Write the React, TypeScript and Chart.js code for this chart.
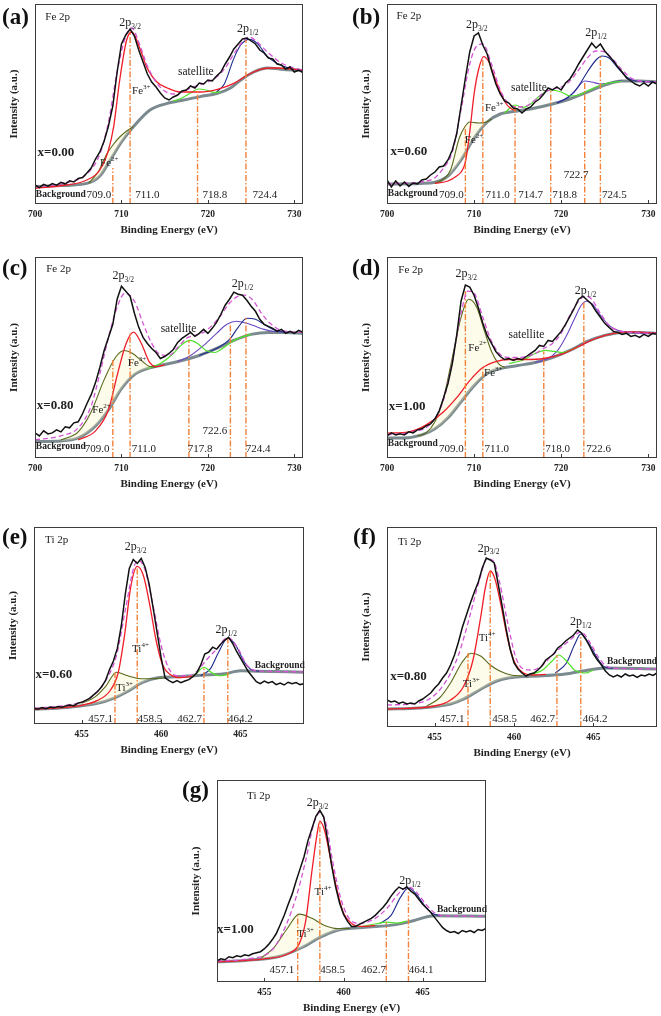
import React, { useEffect, useRef } from "react";
import { Chart, registerables } from "chart.js";
Chart.register(...registerables);

// ---------- axes ----------
const FE_RANGE = [700, 731];
const TI_RANGE = [452, 469];
const FE_TICKS = [700, 710, 720, 730];
const TI_TICKS = [455, 460, 465];
const FE_RAW_START = 700;
const FE_RAW_STEP = 0.5;
const TI_RAW_START = 452;
const TI_RAW_STEP = 0.25;

// ---------- panel (a) Fe 2p, x=0.00 ----------
const RAW_A = [9.5, 8.2, 9.8, 8.9, 10.2, 9.4, 10.8, 10.1, 11.6, 11.0, 12.8, 13.2, 15.5, 18.0, 22.5, 26.0, 31.5, 39.0, 49.0, 66.0, 80.0, 84.5, 87.5, 84.0, 77.0, 71.0, 65.0, 61.0, 58.5, 55.5, 53.0, 52.0, 53.5, 54.5, 56.5, 57.0, 59.0, 58.0, 60.5, 60.0, 62.0, 61.5, 64.0, 66.0, 70.0, 73.5, 77.5, 80.0, 82.5, 83.0, 81.5, 80.0, 77.0, 75.5, 73.0, 72.5, 70.0, 69.5, 67.5, 68.5, 66.0, 67.0, 65.5];
const ENV_A = [[700, 8.5], [704, 11], [706, 15], [707.5, 25], [708.5, 41], [709.5, 66], [710.5, 84], [711.2, 88], [712, 81], [713, 69], [714, 61], [715, 56.5], [716, 55], [717, 56], [718, 58], [719, 59.5], [720, 61], [721, 63.5], [722, 68], [723, 75], [724, 81], [724.8, 83.5], [725.7, 81], [727, 75.5], [728.5, 70.5], [730, 68], [731, 67]];
const BG_A = [[700, 8.7], [703, 9.2], [706, 10.3], [707.5, 14], [708.7, 22], [710, 31], [711.4, 38.7], [713.3, 47], [715.3, 50.3], [717.2, 52], [719.1, 53.7], [721.1, 55.3], [722.6, 58], [723.8, 62], [725.3, 66], [726.9, 68], [728.8, 67.3], [731, 66.7]];
const MAIN_A = [[700, 7.8], [703.6, 9.5], [706, 12], [707.5, 17], [708.5, 27], [709.1, 38.7], [709.8, 62], [710.6, 82], [711.2, 86], [712.2, 77], [712.9, 68.7], [714.1, 61], [715.3, 58], [716.8, 56], [719.1, 56], [721.1, 57.3], [723, 60.3], [724.6, 64.5], [726.1, 67.3], [727.7, 68], [731, 67]];
const MINOR_A = [[706.2, 10.3], [707.3, 16], [708.3, 25], [709.1, 30], [709.8, 33.5], [710.6, 36.5], [711.4, 38.7]];
const SAT_A = [[716, 51.5], [717, 53], [718, 55.5], [718.9, 57.5], [719.8, 57], [720.7, 55.8], [721.5, 56]];
const BLUE_A = [[721, 56], [721.9, 60], [723, 72.8], [723.8, 79.5], [724.8, 82.3], [725.7, 80.3], [726.9, 73.7], [728.4, 69.5], [730, 67.3], [731, 66.7]];
const PEAKS_A = [[709.0, 18], [711.0, 87], [718.8, 57], [724.4, 82]];
const LABELS_A = [
  ["Fe 2p", "", "", 701.2, 93.5, "title"],
  ["2p", "3/2", "", 711, 90.5, "peak"],
  ["2p", "1/2", "", 724.6, 87.5, "peak"],
  ["satellite", "", "", 718.6, 66, "note"],
  ["Fe", "", "3+", 712.3, 56.5, "ion"],
  ["Fe", "", "2+", 708.6, 20.5, "ion"],
  ["x=0.00", "", "", 700.3, 25.7, "x"],
  ["Background", "", "", 700.1, 4.5, "bg"],
  ["709.0", "", "", 707.4, 4.5, "num"],
  ["711.0", "", "", 713.0, 4.5, "num"],
  ["718.8", "", "", 720.8, 4.5, "num"],
  ["724.4", "", "", 726.6, 4.5, "num"],
];

// ---------- panel (b) Fe 2p, x=0.60 ----------
const RAW_B = [12.0, 8.5, 11.5, 9.0, 11.0, 8.8, 10.5, 10.0, 12.0, 12.5, 14.5, 16.0, 18.5, 19.0, 22.0, 27.0, 35.0, 49.0, 63.0, 76.0, 84.0, 85.5, 79.5, 75.0, 67.0, 60.0, 55.0, 51.5, 50.5, 48.0, 47.5, 45.5, 47.5, 48.5, 51.0, 52.5, 55.0, 58.0, 57.0, 58.5, 57.0, 60.5, 62.5, 66.0, 70.0, 73.5, 77.0, 80.5, 78.0, 80.0, 76.5, 74.0, 71.5, 68.5, 66.0, 63.0, 61.5, 60.0, 59.0, 60.5, 59.0, 61.0, 60.0];
const ENV_B = [[700, 10], [705, 12], [706.5, 18], [707.5, 26], [708.5, 47], [709.5, 70], [710.3, 79], [711, 80], [712, 70], [713, 57], [714, 50], [715, 48.5], [716, 49], [717, 52], [718, 55.5], [719, 57.5], [720, 58.5], [721, 61.5], [722, 67], [723, 73], [724, 76.5], [725, 76], [726, 72], [727, 67], [728, 63], [729, 61.5], [731, 61]];
const BG_B = [[700, 10], [705, 10.5], [707, 14], [708.5, 22], [710, 33], [711.5, 41], [713, 45], [715, 46.5], [717, 48], [719, 50], [721, 52.5], [723, 56], [725, 59.5], [727, 61.5], [729, 61.5], [731, 61]];
const MAIN_B = [[705.5, 10.3], [707, 11.5], [708, 14], [708.5, 16], [709, 21], [709.5, 36], [710, 55], [710.5, 67], [711.1, 73.7], [711.7, 71], [712.3, 64], [713, 56], [713.7, 50], [714.3, 47.5], [714.8, 46.8]];
const MINOR_B = [[705.5, 10.5], [706.5, 12.5], [707.3, 17], [708.3, 33], [709, 39], [709.5, 41], [710.5, 40.5], [711.3, 40.8], [712, 42.5]];
const SAT_B = [[713.5, 45.5], [714.7, 49.5], [715.6, 48.3], [716.5, 50], [717.5, 54], [718.8, 57], [720, 56], [721, 54], [722, 54.5], [723, 56.5], [724, 58.5], [725, 60], [727, 61.5]];
const PURPLE_B = [[719.5, 50.5], [720.5, 52.5], [721.5, 56], [722.7, 61.5], [723.5, 61], [724.5, 60], [725.5, 60.5], [727, 61.8]];
const BLUE_B = [[719.5, 50.5], [721, 54], [722, 59], [723, 66], [724, 72], [724.7, 74], [725.5, 73], [726.5, 68], [727.5, 63.5], [728.5, 61.5], [731, 61]];
const PEAKS_B = [[709.0, 39], [711.0, 73], [714.7, 49], [718.8, 57], [722.7, 61.5], [724.5, 74]];
const LABELS_B = [
  ["Fe 2p", "", "", 701.1, 94, "title"],
  ["2p", "3/2", "", 710.3, 89.5, "peak"],
  ["2p", "1/2", "", 724, 85.7, "peak"],
  ["satellite", "", "", 716.3, 58, "note"],
  ["Fe", "", "3+", 712.3, 48, "ion"],
  ["Fe", "", "2+", 710, 32, "ion"],
  ["x=0.60", "", "", 700.4, 26, "x"],
  ["722.7", "", "", 721.7, 14.5, "num"],
  ["Background", "", "", 700.1, 5, "bg"],
  ["709.0", "", "", 707.4, 4.5, "num"],
  ["711.0", "", "", 712.7, 4.5, "num"],
  ["714.7", "", "", 716.5, 4.5, "num"],
  ["718.8", "", "", 720.4, 4.5, "num"],
  ["724.5", "", "", 726.1, 4.5, "num"],
];

// ---------- panel (c) Fe 2p, x=0.80 ----------
const RAW_C = [12.5, 11.0, 13.5, 12.0, 12.5, 14.0, 13.0, 15.5, 15.0, 17.5, 18.0, 22.0, 27.0, 31.5, 37.5, 45.0, 53.5, 60.0, 66.5, 79.0, 85.5, 83.0, 80.5, 72.0, 65.0, 60.0, 57.0, 54.5, 52.5, 49.5, 50.5, 52.0, 54.0, 57.5, 59.5, 61.0, 62.5, 60.5, 62.0, 64.0, 62.0, 64.5, 67.5, 71.5, 76.0, 79.0, 82.5, 81.5, 81.0, 78.5, 75.5, 73.0, 69.0, 66.5, 65.5, 64.5, 63.0, 64.0, 62.0, 63.0, 62.0, 63.5, 62.5];
const ENV_C = [[700, 9], [703, 11], [705, 15], [706.5, 26], [707.5, 42], [708.5, 60], [709.5, 75], [710.4, 82], [711.5, 78], [712.5, 67], [713.5, 57], [714.5, 51.5], [715.5, 51], [716.5, 55], [717.5, 59.5], [718.5, 61], [719.5, 62.5], [720.5, 66], [721.5, 71], [722.5, 77], [723.5, 80.5], [724.3, 81], [725.2, 78.5], [726.2, 72], [727.2, 67], [728.5, 63.5], [731, 62.5]];
const BG_C = [[700, 8.2], [703, 8.5], [705, 10], [707, 16], [708.5, 24], [710, 34.5], [711.5, 41.5], [713, 44.5], [715, 46.5], [717, 48.5], [719, 51], [721, 54.5], [723, 58.5], [725, 61.5], [727, 62.5], [729, 62.5], [731, 62]];
const MAIN_C = [[705, 9], [707, 13.5], [708.5, 24], [709.5, 41], [710.5, 56.5], [711.4, 62.6], [712.3, 57], [713.2, 48], [714, 45.5], [715, 46.3]];
const MINOR_C = [[703, 9], [705, 13], [706.5, 23], [708, 39], [709.3, 50], [710.3, 53.5], [711.3, 52], [712.3, 48.5], [713.3, 45.5], [714, 45.3]];
const SAT_C = [[713, 44.5], [714.5, 47], [716, 52], [717, 56.5], [717.9, 58.5], [718.8, 57], [719.8, 53.5], [720.8, 52.5], [721.5, 54], [722.5, 57], [723.5, 59.5], [725, 61.5]];
const PURPLE_C = [[716.5, 48], [718, 51], [719.5, 56], [721, 62], [722.2, 66.5], [723.3, 68], [724.5, 67], [725.5, 65.5], [726.5, 64], [728, 62.8], [729.5, 62.5]];
const BLUE_C = [[719, 51], [721, 54.5], [722.5, 59], [723.5, 65], [724.5, 69.5], [725.5, 69], [726.5, 66.5], [727.5, 64], [729, 62.5]];
const PEAKS_C = [[709.0, 49], [711.0, 62], [717.8, 58.5], [722.6, 67], [724.4, 69.5]];
const LABELS_C = [
  ["Fe 2p", "", "", 701.3, 94, "title"],
  ["2p", "3/2", "", 710.2, 90.5, "peak"],
  ["2p", "1/2", "", 724, 86.8, "peak"],
  ["satellite", "", "", 716.6, 64.3, "note"],
  ["Fe", "", "3+", 711.8, 47.3, "ion"],
  ["Fe", "", "2+", 707.7, 24, "ion"],
  ["x=0.80", "", "", 700.2, 25.9, "x"],
  ["722.6", "", "", 720.8, 13.2, "num"],
  ["Background", "", "", 700.1, 5.8, "bg"],
  ["709.0", "", "", 707.2, 4.5, "num"],
  ["711.0", "", "", 712.6, 4.5, "num"],
  ["717.8", "", "", 719.1, 4.5, "num"],
  ["724.4", "", "", 725.8, 4.5, "num"],
];

// ---------- panel (d) Fe 2p, x=1.00 ----------
const RAW_D = [11.0, 12.5, 11.5, 12.0, 11.5, 13.0, 12.5, 14.0, 14.5, 16.0, 17.0, 19.5, 23.5, 30.0, 37.0, 47.0, 61.0, 78.0, 86.0, 85.0, 81.0, 74.5, 67.0, 61.0, 57.0, 53.0, 50.5, 49.0, 49.5, 48.5, 49.5, 49.0, 50.5, 52.0, 53.5, 56.0, 55.5, 58.5, 58.0, 60.5, 63.0, 66.5, 70.5, 74.5, 79.0, 80.5, 78.5, 76.5, 73.0, 70.0, 67.0, 65.0, 63.0, 62.5, 61.5, 62.0, 60.5, 61.0, 60.0, 61.5, 60.5, 62.0, 61.5];
const ENV_D = [[700, 11.5], [703, 13], [705, 17], [706.5, 29], [707.5, 48], [708.5, 72], [709.3, 83], [710, 82], [711, 70], [712, 58], [713, 51.5], [714, 50], [715, 50], [716, 50.5], [717, 52], [718, 54.5], [719, 57], [720, 62], [721, 71], [722, 78], [722.8, 80.5], [723.5, 79], [724.5, 72], [725.5, 66], [726.5, 63.5], [728, 62.5], [731, 62]];
const BG_D = [[700, 10], [702, 10], [704, 11.5], [705.5, 14.5], [707, 20], [708.5, 28], [710, 36], [711.5, 42], [713, 44.5], [715, 46], [717, 47.5], [719, 50], [721, 53.5], [723, 58], [725, 61], [727, 62.5], [729, 62.5], [731, 62]];
const MAIN_D = [[700, 12.4], [702.5, 13], [704.5, 16.5], [706.5, 23], [708, 30], [709.5, 38.5], [711, 45], [712.5, 48], [714, 49], [716, 49], [718, 49.5], [720, 51.5], [722, 55.5], [724, 59.5], [726, 62], [728, 62.7], [731, 62.2]];
const MINOR_D = [[703.5, 11], [704.5, 12.5], [705.5, 18], [706.5, 30], [707.5, 50], [708.5, 70], [709.4, 79], [710.3, 75], [711.2, 63], [712, 53], [712.8, 47], [713.5, 45]];
const SAT_D = [[714, 47], [715.5, 48.5], [717, 52], [718.2, 53.5], [719.2, 53], [720.2, 52.5], [721, 53.5], [722, 55.5]];
const PURPLE_D = [[717, 47.5], [718.5, 49.5], [719.5, 53], [720.5, 60], [721.5, 69], [722.3, 76], [722.9, 78], [723.6, 76.5], [724.5, 71], [725.5, 66], [726.5, 63.5], [728, 62.5], [731, 62]];
const PEAKS_D = [[709.0, 83], [711.0, 45], [718.0, 53], [722.6, 78]];
const LABELS_D = [
  ["Fe 2p", "", "", 701.3, 93.4, "title"],
  ["2p", "3/2", "", 709.1, 91.4, "peak"],
  ["2p", "1/2", "", 722.8, 83.2, "peak"],
  ["satellite", "", "", 716, 61.4, "note"],
  ["Fe", "", "2+", 710.4, 54.9, "ion"],
  ["Fe", "", "3+", 712.2, 42.3, "ion"],
  ["x=1.00", "", "", 700.2, 25.5, "x"],
  ["Background", "", "", 700.1, 7, "bg"],
  ["709.0", "", "", 707.4, 4.5, "num"],
  ["711.0", "", "", 712.6, 4.5, "num"],
  ["718.0", "", "", 719.6, 4.5, "num"],
  ["722.6", "", "", 724.3, 4.5, "num"],
];

// ---------- panel (e) Ti 2p, x=0.60 ----------
const RAW_E = [8.0, 7.5, 8.3, 7.8, 8.6, 8.2, 8.9, 8.5, 9.2, 9.6, 9.3, 10.5, 11.0, 12.0, 13.0, 14.8, 16.5, 18.8, 22.0, 27.5, 32.0, 38.5, 50.0, 66.0, 79.0, 83.5, 81.5, 84.0, 79.5, 71.0, 59.0, 46.5, 34.0, 23.5, 22.0, 21.0, 22.0, 21.0, 21.8, 22.5, 24.0, 26.0, 30.0, 35.5, 36.5, 39.0, 38.0, 40.5, 42.5, 44.0, 41.0, 37.0, 33.5, 30.0, 26.5, 24.0, 21.5, 20.5, 21.8, 20.8, 21.5, 20.0, 20.8, 19.8, 21.2, 20.5, 21.0, 20.0, 20.5];
const ENV_E = [[452, 8], [454, 9.5], [455.5, 13], [456.5, 22], [457.2, 35], [457.8, 60], [458.3, 80], [458.6, 83], [459, 78], [459.5, 60], [460, 40], [460.5, 28], [461, 24.5], [461.7, 24.5], [462.3, 27], [462.8, 32], [463.5, 38], [464.2, 44], [464.8, 39], [465.4, 30], [466, 27], [469, 26.5]];
const BG_E = [[452, 7.5], [454, 8.4], [456, 10.5], [457, 13], [458, 17], [458.8, 21], [459.8, 23.5], [461, 24], [462, 24.5], [463, 25], [464, 25.5], [465, 27], [466, 26.8], [469, 26.3]];
const MAIN_E = [[452, 7.5], [455, 9.5], [456, 12], [456.8, 17], [457.3, 26], [457.7, 45], [458.1, 70], [458.5, 80], [458.9, 75], [459.3, 60], [459.7, 42], [460.1, 30], [460.6, 25], [461.2, 23.5], [462, 24.2]];
const MINOR_E = [[455, 10.5], [455.8, 13.5], [456.5, 19], [457.2, 26.3], [457.9, 24.5], [458.7, 23], [459.5, 23], [460.2, 23.5]];
const SAT_E = [[461.7, 23.8], [462.2, 25.5], [462.7, 28.8], [463.2, 26], [463.7, 24.5], [464.3, 25.3]];
const BLUE_E = [[462.5, 24.5], [463.1, 28], [463.6, 36], [464.2, 43.5], [464.7, 40], [465.2, 32], [465.7, 27.5], [466.2, 26.8]];
const PEAKS_E = [[457.1, 26], [458.5, 80], [462.7, 29], [464.2, 44]];
const LABELS_E = [
  ["Ti 2p", "", "", 452.7, 93.3, "title"],
  ["2p", "3/2", "", 458.4, 90, "peak"],
  ["2p", "1/2", "", 464.1, 47.6, "peak"],
  ["Ti", "", "4+", 458.7, 38, "ion"],
  ["Ti", "", "3+", 457.7, 18, "ion"],
  ["x=0.60", "", "", 452.1, 25, "x"],
  ["Background", "", "", 465.9, 29.6, "bg"],
  ["457.1", "", "", 456.2, 2.5, "num"],
  ["458.5", "", "", 459.3, 2.5, "num"],
  ["462.7", "", "", 461.8, 2.5, "num"],
  ["464.2", "", "", 465.0, 2.5, "num"],
];

// ---------- panel (f) Ti 2p, x=0.80 ----------
const RAW_F = [13.5, 12.5, 13.0, 11.8, 12.5, 11.5, 12.0, 11.5, 13.0, 14.0, 15.5, 17.0, 19.5, 21.5, 24.5, 27.0, 31.0, 36.0, 42.5, 50.0, 56.0, 62.0, 67.5, 72.5, 79.5, 84.5, 83.5, 82.0, 71.5, 60.5, 49.0, 39.0, 32.0, 29.0, 27.0, 25.5, 26.5, 27.0, 28.5, 30.5, 33.5, 35.0, 36.5, 39.5, 41.0, 43.0, 44.5, 46.0, 48.5, 47.0, 44.0, 40.5, 36.5, 33.5, 31.0, 28.0, 26.0, 25.0, 26.0, 25.0, 26.5, 25.5, 26.0, 24.8, 26.0, 25.5, 26.5, 25.8, 27.0];
const ENV_F = [[452, 11], [454, 12], [455, 16], [455.8, 24], [456.5, 36], [457.2, 55], [457.8, 73], [458.3, 84], [458.7, 83], [459.1, 72], [459.6, 52], [460.1, 35], [460.6, 29], [461.2, 28.5], [461.8, 31], [462.4, 36], [463, 40], [463.6, 44], [464.2, 47.5], [464.8, 42], [465.3, 35], [465.8, 30.5], [466.5, 29.3], [469, 29]];
const BG_F = [[452, 9], [454, 9.5], [456, 11.5], [456.8, 13.9], [457.9, 18.9], [458.9, 23], [459.7, 24.6], [461, 25.4], [463, 26.2], [465.1, 29], [465.7, 29.5], [469, 29]];
const MAIN_F = [[452, 9], [455, 10.5], [456, 13.5], [456.8, 20], [457.4, 33], [457.9, 55], [458.2, 70], [458.5, 78], [458.8, 74], [459.2, 60], [459.6, 44], [460, 33], [460.5, 27.5], [461.2, 26], [462, 26.3]];
const MINOR_F = [[454.5, 10.5], [455.3, 14.5], [456, 22], [456.7, 32], [457.3, 36.9], [457.9, 35.5], [458.5, 31], [459.1, 28], [459.8, 26], [460.5, 25.5]];
const SAT_F = [[461, 26], [461.8, 28.5], [462.4, 33], [462.8, 36], [463.3, 33], [463.8, 28.5], [464.5, 27], [465, 28.5]];
const BLUE_F = [[462.6, 27], [463.3, 32], [463.8, 41], [464.2, 46.5], [464.7, 42], [465.2, 35], [465.7, 30], [466.2, 29.3]];
const PEAKS_F = [[457.1, 37], [458.5, 78], [462.7, 36], [464.2, 46]];
const LABELS_F = [
  ["Ti 2p", "", "", 452.7, 92.6, "title"],
  ["2p", "3/2", "", 458.4, 89.3, "peak"],
  ["2p", "1/2", "", 464.2, 52.5, "peak"],
  ["Ti", "", "4+", 458.3, 44.3, "ion"],
  ["Ti", "", "3+", 457.3, 21.3, "ion"],
  ["x=0.80", "", "", 452.2, 25.4, "x"],
  ["Background", "", "", 465.85, 32.8, "bg"],
  ["457.1", "", "", 456.1, 4, "num"],
  ["458.5", "", "", 459.4, 4, "num"],
  ["462.7", "", "", 461.8, 4, "num"],
  ["464.2", "", "", 465.1, 4, "num"],
];

// ---------- panel (g) Ti 2p, x=1.00 ----------
const RAW_G = [10.5, 11.5, 11.0, 12.5, 12.0, 13.0, 12.5, 13.5, 13.0, 14.0, 14.5, 15.0, 16.5, 18.5, 21.0, 24.0, 28.5, 33.0, 38.5, 43.5, 50.0, 56.0, 62.0, 70.0, 76.0, 82.0, 85.0, 81.5, 70.0, 57.5, 47.0, 39.0, 33.5, 30.0, 27.5, 27.5, 28.5, 29.5, 30.5, 31.5, 33.0, 35.0, 37.0, 39.5, 42.5, 45.0, 47.0, 46.0, 47.0, 45.0, 43.5, 41.0, 38.5, 36.5, 34.5, 32.0, 29.5, 27.0, 25.5, 24.5, 25.0, 24.0, 25.5, 24.8, 25.5, 24.5, 26.0, 25.5, 26.5];
const ENV_G = [[452, 10.5], [454, 11.5], [455.5, 16], [456.3, 27], [457, 42], [457.6, 60], [458.1, 78], [458.5, 84], [458.9, 78], [459.3, 60], [459.8, 42], [460.3, 32], [461, 29], [462, 31.5], [462.8, 37], [463.5, 44], [464.1, 47], [464.6, 44.5], [465.2, 38.5], [465.8, 34], [466.5, 32.8], [469, 32.5]];
const BG_G = [[452, 10], [453.8, 10.7], [455.9, 12.6], [457.4, 17.2], [458.5, 22.1], [459.5, 25.4], [461.2, 27], [463.3, 28.4], [464.4, 30.3], [465.7, 32.8], [469, 32.5]];
const MAIN_G = [[452, 10], [455, 11.5], [456.5, 14], [457.2, 19], [457.6, 30], [458, 55], [458.3, 72], [458.5, 79.5], [458.8, 75], [459.2, 60], [459.6, 45], [460, 34], [460.5, 29], [461.2, 27.5], [462, 28]];
const MINOR_G = [[454.8, 12], [455.6, 17], [456.4, 26], [457.2, 33.6], [458, 31.5], [458.8, 28], [459.6, 26.5], [460.4, 26.5]];
const SAT_G = [[461, 27.2], [462, 28.7], [462.7, 29.6], [463.4, 29.2], [464, 30.2]];
const BLUE_G = [[462.3, 29], [463, 33], [463.6, 42], [464.1, 46.5], [464.6, 43.5], [465.1, 38], [465.6, 34], [466.1, 32.8]];
const PEAKS_G = [[457.1, 33], [458.5, 80], [462.7, 29.5], [464.1, 46]];
const LABELS_G = [
  ["Ti 2p", "", "", 453.9, 91.8, "title"],
  ["2p", "3/2", "", 458.35, 88.5, "peak"],
  ["2p", "1/2", "", 464.2, 50, "peak"],
  ["Ti", "", "4+", 458.7, 44.3, "ion"],
  ["Ti", "", "3+", 457.6, 23.8, "ion"],
  ["x=1.00", "", "", 452, 25.7, "x"],
  ["Background", "", "", 465.9, 36, "bg"],
  ["457.1", "", "", 456.1, 5.7, "num"],
  ["458.5", "", "", 459.3, 5.7, "num"],
  ["462.7", "", "", 461.9, 5.7, "num"],
  ["464.1", "", "", 464.9, 5.7, "num"],
];

// ---------- layout & style (kept separate from data) ----------
const SERIF = '"Liberation Serif", "DejaVu Serif", serif';
const Y_W = 34;
const X_H = 36;
const PAD_R = 12;

type Panel = {
  tag: string;
  box: number[];
  tagPos: number[];
  fe: boolean;
  raw: number[];
  env: number[][];
  bg: number[][];
  main: number[][];
  minor: number[][];
  sat: number[][];
  blue: number[][] | null;
  purple: number[][] | null;
  peaks: number[][];
  labels: any[];
};

const PANELS: Panel[] = [
  { tag: "(a)", box: [35, 4, 303, 204], tagPos: [2, 5], fe: true, raw: RAW_A, env: ENV_A, bg: BG_A, main: MAIN_A, minor: MINOR_A, sat: SAT_A, blue: BLUE_A, purple: null, peaks: PEAKS_A, labels: LABELS_A },
  { tag: "(b)", box: [387, 4, 657, 204], tagPos: [352, 5], fe: true, raw: RAW_B, env: ENV_B, bg: BG_B, main: MAIN_B, minor: MINOR_B, sat: SAT_B, blue: BLUE_B, purple: PURPLE_B, peaks: PEAKS_B, labels: LABELS_B },
  { tag: "(c)", box: [35, 257, 303, 458], tagPos: [2, 256], fe: true, raw: RAW_C, env: ENV_C, bg: BG_C, main: MAIN_C, minor: MINOR_C, sat: SAT_C, blue: BLUE_C, purple: PURPLE_C, peaks: PEAKS_C, labels: LABELS_C },
  { tag: "(d)", box: [387, 257, 657, 458], tagPos: [352, 256], fe: true, raw: RAW_D, env: ENV_D, bg: BG_D, main: MAIN_D, minor: MINOR_D, sat: SAT_D, blue: null, purple: PURPLE_D, peaks: PEAKS_D, labels: LABELS_D },
  { tag: "(e)", box: [34, 527, 304, 724], tagPos: [2, 525], fe: false, raw: RAW_E, env: ENV_E, bg: BG_E, main: MAIN_E, minor: MINOR_E, sat: SAT_E, blue: BLUE_E, purple: null, peaks: PEAKS_E, labels: LABELS_E },
  { tag: "(f)", box: [387, 527, 657, 727], tagPos: [353, 525], fe: false, raw: RAW_F, env: ENV_F, bg: BG_F, main: MAIN_F, minor: MINOR_F, sat: SAT_F, blue: BLUE_F, purple: null, peaks: PEAKS_F, labels: LABELS_F },
  { tag: "(g)", box: [217, 780, 486, 982], tagPos: [182, 778], fe: false, raw: RAW_G, env: ENV_G, bg: BG_G, main: MAIN_G, minor: MINOR_G, sat: SAT_G, blue: BLUE_G, purple: null, peaks: PEAKS_G, labels: LABELS_G },
];

const ROLE: Record<string, { font: string; small: string; align: string }> = {
  title: { font: `11px ${SERIF}`, small: `7px ${SERIF}`, align: "left" },
  peak: { font: `12px ${SERIF}`, small: `7.5px ${SERIF}`, align: "center" },
  ion: { font: `11px ${SERIF}`, small: `7px ${SERIF}`, align: "center" },
  note: { font: `11.5px ${SERIF}`, small: `7px ${SERIF}`, align: "center" },
  x: { font: `bold 13px ${SERIF}`, small: `7px ${SERIF}`, align: "left" },
  bg: { font: `bold 9.5px ${SERIF}`, small: `7px ${SERIF}`, align: "left" },
  num: { font: `11px ${SERIF}`, small: `7px ${SERIF}`, align: "center" },
};

const pts = (arr: number[][]) => arr.map(([x, y]) => ({ x, y }));
const rawPts = (arr: number[], x0: number, step: number) => arr.map((y, i) => ({ x: x0 + i * step, y }));

function buildConfig(p: Panel): any {
  const range = p.fe ? FE_RANGE : TI_RANGE;
  const ticks = p.fe ? FE_TICKS : TI_TICKS;
  const x0 = p.fe ? FE_RAW_START : TI_RAW_START;
  const step = p.fe ? FE_RAW_STEP : TI_RAW_STEP;
  const smooth = { cubicInterpolationMode: "monotone" };
  const ds: any[] = [];
  ds.push({ data: rawPts(p.raw, x0, step), borderColor: "#111111", borderWidth: 1.5, tension: 0, order: 0 });
  ds.push({ data: pts(p.env), borderColor: "#d455d4", borderWidth: 1.3, borderDash: [5, 3], order: 1, ...smooth });
  p.peaks.forEach(([x, top]) =>
    ds.push({ data: [{ x, y: 0 }, { x, y: top }], borderColor: "#f5823a", borderWidth: 1.4, borderDash: [6, 2, 1.5, 2], order: 2 })
  );
  ds.push({ data: pts(p.main), borderColor: "#f01e28", borderWidth: 1.3, order: 3, ...smooth });
  ds.push({ data: pts(p.sat), borderColor: "#50e02a", borderWidth: 1.2, order: 5, ...smooth });
  if (p.blue) ds.push({ data: pts(p.blue), borderColor: "#1c2a8c", borderWidth: 1.1, order: 6, ...smooth });
  if (p.purple) ds.push({ data: pts(p.purple), borderColor: "#6a48c4", borderWidth: 1.1, order: 7, ...smooth });
  const bgIdx = ds.length;
  ds.push({ data: pts(p.bg), borderColor: "#7b8a8f", borderWidth: 3, order: 9, ...smooth });
  ds.push({ data: pts(p.minor), borderColor: "#5a6a1c", borderWidth: 1.1, order: 4, fill: bgIdx, backgroundColor: "rgba(250,247,190,0.32)", ...smooth });

  const decor = {
    id: "decor" + p.tag,
    afterDatasetsDraw(chart: any) {
      const { ctx, chartArea: a, scales } = chart;
      const xs = scales.x;
      const ys = scales.y;
      ctx.save();
      ctx.strokeStyle = "#3c3c3c";
      ctx.lineWidth = 1;
      ctx.strokeRect(a.left + 0.5, a.top + 0.5, a.right - a.left - 1, a.bottom - a.top - 1);
      ctx.beginPath();
      for (const t of ticks) {
        const px = Math.round(xs.getPixelForValue(t)) + 0.5;
        ctx.moveTo(px, a.bottom);
        ctx.lineTo(px, a.bottom - 4);
      }
      ctx.stroke();
      ctx.fillStyle = "#222";
      ctx.textBaseline = "middle";
      ctx.textAlign = "left";
      for (const [text, sub, sup, lx, ly, role] of p.labels) {
        const st = ROLE[role];
        const px = xs.getPixelForValue(lx);
        const py = ys.getPixelForValue(ly);
        ctx.font = st.font;
        const w1 = ctx.measureText(text).width;
        const small = sub || sup;
        let w2 = 0;
        if (small) {
          ctx.font = st.small;
          w2 = ctx.measureText(small).width;
        }
        const sx = st.align === "left" ? px : px - (w1 + w2) / 2;
        ctx.font = st.font;
        ctx.fillText(text, sx, py);
        if (sub) {
          ctx.font = st.small;
          ctx.fillText(sub, sx + w1, py + 4);
        }
        if (sup) {
          ctx.font = st.small;
          ctx.fillText(sup, sx + w1, py - 4);
        }
      }
      ctx.restore();
    },
  };

  return {
    type: "line",
    data: { datasets: ds },
    plugins: [decor],
    options: {
      animation: false,
      responsive: true,
      maintainAspectRatio: false,
      parsing: true,
      layout: { padding: { left: 0, right: PAD_R, top: 1, bottom: 0 } },
      elements: { point: { radius: 0 }, line: { fill: false } },
      plugins: { legend: { display: false }, tooltip: { enabled: false } },
      scales: {
        x: {
          type: "linear",
          min: range[0],
          max: range[1],
          grid: { display: false, drawTicks: false },
          border: { display: false },
          afterBuildTicks: (s: any) => {
            s.ticks = ticks.map((v) => ({ value: v }));
          },
          afterFit: (s: any) => {
            s.height = X_H;
          },
          ticks: {
            autoSkip: false,
            maxRotation: 0,
            padding: 5,
            color: "#222",
            font: { family: SERIF, size: 9.5, weight: "bold" },
          },
          title: {
            display: true,
            text: "Binding Energy (eV)",
            color: "#222",
            font: { family: SERIF, size: 11, weight: "bold" },
            padding: { top: 0, bottom: 3 },
          },
        },
        y: {
          type: "linear",
          min: 0,
          max: 100,
          grid: { display: false, drawTicks: false },
          border: { display: false },
          ticks: { display: false },
          afterFit: (s: any) => {
            s.width = Y_W;
          },
          title: {
            display: true,
            text: "Intensity (a.u.)",
            color: "#222",
            font: { family: SERIF, size: 11, weight: "bold" },
            padding: { top: 7, bottom: 0 },
          },
        },
      },
    },
  };
}

function PanelChart({ p }: { p: Panel }) {
  const ref = useRef<HTMLCanvasElement | null>(null);
  useEffect(() => {
    const chart = new Chart(ref.current as HTMLCanvasElement, buildConfig(p));
    return () => chart.destroy();
  }, [p]);
  const [L, T, R, B] = p.box;
  return (
    <>
      <div
        style={{
          position: "absolute",
          left: L - Y_W,
          top: T - 1,
          width: R - L + Y_W + PAD_R,
          height: B - T + 1 + X_H,
        }}
      >
        <canvas ref={ref} />
      </div>
      <div
        style={{
          position: "absolute",
          left: p.tagPos[0],
          top: p.tagPos[1],
          font: `bold 23px ${SERIF}`,
          lineHeight: "23px",
          color: "#111",
        }}
      >
        {p.tag}
      </div>
    </>
  );
}

export default function App() {
  return (
    <div
      style={{
        position: "absolute",
        left: 0,
        top: 0,
        width: 661,
        height: 1016,
        overflow: "hidden",
        background: "#fff",
      }}
    >
      {PANELS.map((p) => (
        <PanelChart key={p.tag} p={p} />
      ))}
    </div>
  );
}
